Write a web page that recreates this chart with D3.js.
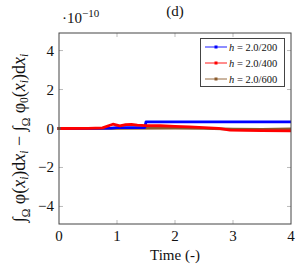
<!DOCTYPE html>
<html>
<head>
<meta charset="utf-8">
<script src="https://cdn.jsdelivr.net/npm/d3@7"></script>
<style>
  body { margin: 0; background: #fff; }
  svg text { font-family: "Liberation Serif", "DejaVu Serif", serif; fill: #111; }
</style>
</head>
<body>
<svg id="chart" width="300" height="270" font-family="Liberation Serif"></svg>
<script>
// values in units of 1e-10
const blueT = [0, 0.5, 0.9, 1.0, 1.48, 1.5, 2.5, 4];
const blueV = [0, 0.01, 0.02, 0.05, 0.05, 0.34, 0.34, 0.34];
const redT = [0, 0.5, 0.75, 0.93, 1.05, 1.15, 1.25, 1.35, 1.5, 1.75, 2.0, 2.25, 2.5, 2.75, 2.95, 3.2, 3.5, 4];
const redV = [0, 0.01, 0.03, 0.22, 0.13, 0.2, 0.21, 0.17, 0.15, 0.14, 0.11, 0.08, 0.05, 0.01, -0.08, -0.1, -0.11, -0.12];
const brownT = [0, 1, 2, 2.5, 3, 3.5, 4];
const brownV = [0, 0.01, 0.02, 0.01, -0.03, -0.04, -0.02];

const seriesNames = ['h = 2.0/200', 'h = 2.0/400', 'h = 2.0/600'];
const seriesColors = ['#0000ff', '#ff0000', '#8b5a2b'];
const xTicks = [0, 1, 2, 3, 4];
const yTicks = [-4, -2, 0, 2, 4];

const series = [
    blueT.map((t, i) => [t, blueV[i]]),
    redT.map((t, i) => [t, redV[i]]),
    brownT.map((t, i) => [t, brownV[i]])
];

const svg = d3.select('#chart');
const plotL = 59, plotR = 291, plotT = 33, plotB = 224;

const x = d3.scaleLinear().domain([0, 4]).range([plotL, plotR]);
const y = d3.scaleLinear().domain([-4.9, 4.9]).range([plotB, plotT]);

// ticks (inside, on all four sides)
const tickG = svg.append('g').attr('stroke', '#aaa').attr('stroke-width', 0.8);
xTicks.slice(1, -1).forEach(t => {
    tickG.append('line').attr('x1', x(t)).attr('x2', x(t)).attr('y1', plotB).attr('y2', plotB - 4);
    tickG.append('line').attr('x1', x(t)).attr('x2', x(t)).attr('y1', plotT).attr('y2', plotT + 4);
});
yTicks.forEach(t => {
    tickG.append('line').attr('x1', plotL).attr('x2', plotL + 4).attr('y1', y(t)).attr('y2', y(t));
    tickG.append('line').attr('x1', plotR).attr('x2', plotR - 4).attr('y1', y(t)).attr('y2', y(t));
});

// lines
const line = d3.line().x(d => x(d[0])).y(d => y(d[1]));
// draw brown first, then blue, then red on top
[2, 0, 1].forEach(i => {
    svg.append('path')
        .attr('d', line(series[i]))
        .attr('fill', 'none')
        .attr('stroke', seriesColors[i])
        .attr('stroke-width', 2.8)
        .attr('stroke-linejoin', 'round');
});
// markers at first point
series.forEach((s, i) => {
    svg.append('rect')
        .attr('x', x(s[0][0]) - 1.5).attr('y', y(s[0][1]) - 1.5)
        .attr('width', 3).attr('height', 3)
        .attr('fill', seriesColors[i]);
});

// frame
svg.append('rect')
    .attr('x', plotL).attr('y', plotT)
    .attr('width', plotR - plotL).attr('height', plotB - plotT)
    .attr('fill', 'none').attr('stroke', '#444').attr('stroke-width', 1);

// tick labels
svg.append('g').selectAll('text').data(xTicks).join('text')
    .attr('x', d => x(d)).attr('y', plotB + 17)
    .attr('text-anchor', 'middle').attr('font-size', 15)
    .text(d => d);
svg.append('g').selectAll('text').data(yTicks).join('text')
    .attr('x', plotL - 5).attr('y', d => y(d) + 5)
    .attr('text-anchor', 'end').attr('font-size', 15)
    .text(d => d < 0 ? '\u2212' + Math.abs(d) : d);

// multiplier
const mult = svg.append('text').attr('x', 62).attr('y', 23).attr('font-size', 15);
mult.append('tspan').text('\u00b710');
mult.append('tspan').attr('dy', -6).attr('font-size', 11).text('\u221210');

// title
svg.append('text').attr('x', 175).attr('y', 16)
    .attr('text-anchor', 'middle').attr('font-size', 15).text('(d)');

// x label
svg.append('text').attr('x', 175).attr('y', 260)
    .attr('text-anchor', 'middle').attr('font-size', 15).text('Time (-)');

// y label
const yl = svg.append('text')
    .attr('transform', 'translate(25,138) rotate(-90)')
    .attr('text-anchor', 'middle').attr('font-size', 18);
const sub = 11.5;
yl.append('tspan').text('\u222b');
yl.append('tspan').attr('dy', 5).attr('font-size', sub).text('\u03a9');
yl.append('tspan').attr('dy', -5).text(' \u03c6(');
yl.append('tspan').attr('font-style', 'italic').text('x');
yl.append('tspan').attr('dy', 3).attr('font-size', sub).attr('font-style', 'italic').text('i');
yl.append('tspan').attr('dy', -3).text(')d');
yl.append('tspan').attr('font-style', 'italic').text('x');
yl.append('tspan').attr('dy', 3).attr('font-size', sub).attr('font-style', 'italic').text('i');
yl.append('tspan').attr('dy', -3).text(' \u2212 \u222b');
yl.append('tspan').attr('dy', 5).attr('font-size', sub).text('\u03a9');
yl.append('tspan').attr('dy', -5).text(' \u03c6');
yl.append('tspan').attr('dy', 3).attr('font-size', sub).text('0');
yl.append('tspan').attr('dy', -3).text('(');
yl.append('tspan').attr('font-style', 'italic').text('x');
yl.append('tspan').attr('dy', 3).attr('font-size', sub).attr('font-style', 'italic').text('i');
yl.append('tspan').attr('dy', -3).text(')d');
yl.append('tspan').attr('font-style', 'italic').text('x');
yl.append('tspan').attr('dy', 3).attr('font-size', sub).attr('font-style', 'italic').text('i');

// legend
const lg = svg.append('g');
lg.append('rect')
    .attr('x', 200.5).attr('y', 38.5).attr('width', 84).attr('height', 48)
    .attr('fill', '#fff').attr('stroke', '#444').attr('stroke-width', 1);
seriesNames.forEach((name, i) => {
    const ry = 47 + i * 16;
    lg.append('line')
        .attr('x1', 205).attr('x2', 227).attr('y1', ry).attr('y2', ry)
        .attr('stroke', seriesColors[i]).attr('stroke-width', 0.9);
    lg.append('rect')
        .attr('x', 214.5).attr('y', ry - 1.5).attr('width', 3).attr('height', 3)
        .attr('fill', seriesColors[i]);
    const [hv, rest] = name.split(' = ');
    const t = lg.append('text').attr('x', 229).attr('y', ry + 3.5).attr('font-size', 10.5);
    t.append('tspan').attr('font-style', 'italic').text(hv);
    t.append('tspan').text(' = ' + rest);
});
</script>
</body>
</html>
